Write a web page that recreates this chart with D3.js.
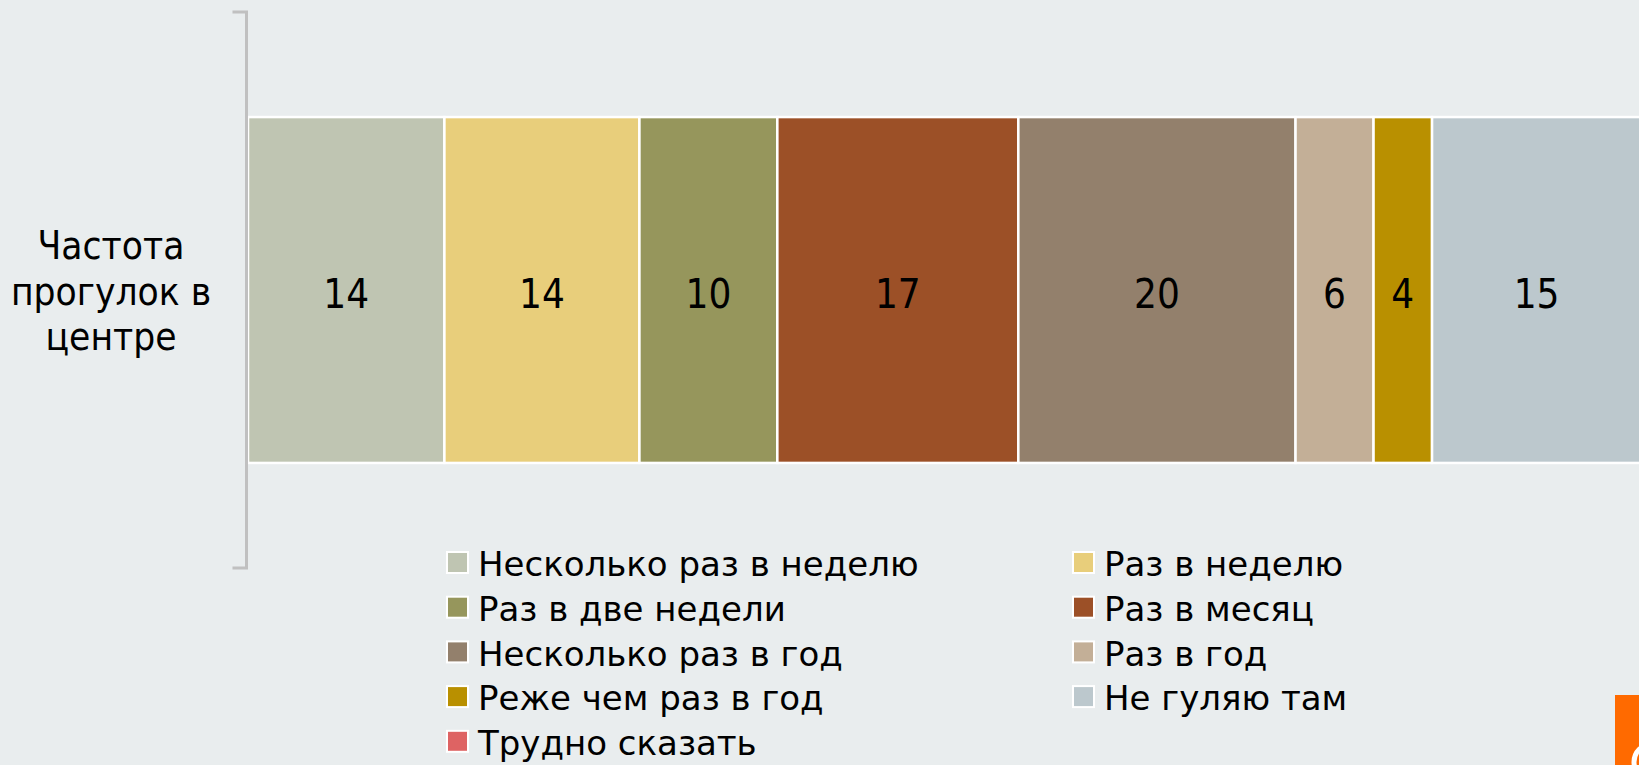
<!DOCTYPE html>
<html>
<head>
<meta charset="utf-8">
<script src="https://cdn.jsdelivr.net/npm/d3@7"></script>
<style>
  html, body { margin: 0; padding: 0; background: #e9edee; }
  svg { display: block; font-family: "DejaVu Sans Condensed", "DejaVu Sans", sans-serif; }
</style>
</head>
<body>
<svg id="chart" width="1639" height="765"></svg>
<script>
// category on the y axis (split over lines as in the original)
const categories = ['Частота прогулок в центре'];
const categoryLines = ['Частота', 'прогулок в', 'центре'];

// answer options, in stacking order
const seriesNames = [
  'Несколько раз в неделю',
  'Раз в неделю',
  'Раз в две недели',
  'Раз в месяц',
  'Несколько раз в год',
  'Раз в год',
  'Реже чем раз в год',
  'Не гуляю там',
  'Трудно сказать'
];

// shares, %
const seriesValues = [14.1, 14.0, 9.9, 17.3, 19.9, 5.6, 4.2, 15.0, 0];

const seriesColors = [
  '#bfc5b2', '#e8ce7b', '#96965c', '#9c5027', '#93806c',
  '#c3af97', '#b99000', '#bcc8cd', '#de6363'
];

const width = 1639, height = 765;
const svg = d3.select('#chart');

svg.append('rect')
  .attr('width', width)
  .attr('height', height)
  .attr('fill', '#e9edee');

// scales
const x = d3.scaleLinear().domain([0, 100]).range([248, 1641]);
const y = d3.scaleBand().domain(categories).range([12, 568]).padding(0.233);
const color = d3.scaleOrdinal().domain(seriesNames).range(seriesColors);

// one row table for d3.stack
const row = { cat: categories[0] };
seriesNames.forEach((s, i) => { row[s] = seriesValues[i]; });
const stacked = d3.stack().keys(seriesNames)([row]);
const shown = stacked.filter(s => s[0][1] - s[0][0] > 0);

const bars = svg.append('g');
bars.selectAll('rect')
  .data(shown)
  .join('rect')
  .attr('x', d => x(d[0][0]))
  .attr('y', y(categories[0]))
  .attr('width', d => x(d[0][1]) - x(d[0][0]))
  .attr('height', y.bandwidth())
  .attr('fill', d => color(d.key))
  .attr('stroke', '#ffffff')
  .attr('stroke-width', 2.5);

// value labels
const fmt = d3.format('.0f');
bars.selectAll('text')
  .data(shown)
  .join('text')
  .attr('x', d => x((d[0][0] + d[0][1]) / 2))
  .attr('y', y(categories[0]) + y.bandwidth() / 2 + 4)
  .attr('dy', '0.35em')
  .attr('text-anchor', 'middle')
  .attr('font-size', 40)
  .attr('fill', '#000')
  .text(d => fmt(d[0][1] - d[0][0]));

// y axis: plain vertical line with end ticks
const axis = svg.append('g').attr('transform', 'translate(246.5,0)');
axis.call(d3.axisLeft(y).tickSize(0).tickFormat(''));
axis.select('.domain')
  .attr('stroke', '#c0c0c0')
  .attr('stroke-width', 3)
  .attr('d', 'M-14,' + 12 + 'H0V' + 568 + 'H-14');

// category label
const lab = svg.append('text')
  .attr('text-anchor', 'middle')
  .attr('font-size', 38.5)
  .attr('fill', '#000');
categoryLines.forEach((t, i) => {
  lab.append('tspan')
    .attr('x', 111)
    .attr('y', 259 + i * 45.5)
    .text(t);
});

// legend, two columns
const legend = svg.append('g').style('font-family', '"DejaVu Sans", sans-serif');
const colX = [447, 1073];
const item = legend.selectAll('g')
  .data(seriesNames)
  .join('g')
  .attr('transform', (d, i) => 'translate(' + colX[i % 2] + ',' + (562 + Math.floor(i / 2) * 44.7) + ')');
item.append('rect')
  .attr('x', 0).attr('y', -10)
  .attr('width', 21).attr('height', 21)
  .attr('fill', d => color(d))
  .attr('stroke', '#ffffff')
  .attr('stroke-width', 2);
item.append('text')
  .attr('x', 31)
  .attr('y', 2)
  .attr('dy', '0.36em')
  .attr('font-size', 34)
  .attr('fill', '#000')
  .text(d => d);

// corner logo fragment
svg.append('rect')
  .attr('x', 1615).attr('y', 695)
  .attr('width', 30).attr('height', 80)
  .attr('fill', '#ff6a00');
svg.append('circle')
  .attr('cx', 1652).attr('cy', 762)
  .attr('r', 18)
  .attr('fill', 'none')
  .attr('stroke', '#ffffff')
  .attr('stroke-width', 5);
</script>
</body>
</html>
